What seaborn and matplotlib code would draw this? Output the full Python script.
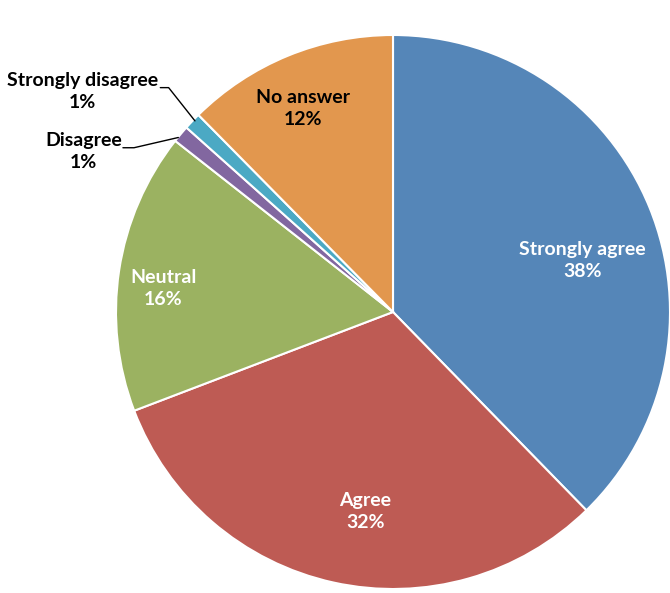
import matplotlib
matplotlib.use("Agg")
import matplotlib.pyplot as plt
import seaborn as sns

# Ответы на вопрос (доли в процентах)
categories = ["Strongly agree", "Agree", "Neutral", "Disagree", "Strongly disagree", "No answer"]
shares = [37.7, 31.5, 16.4, 1.0, 1.0, 12.4]
colors = ["#5586B8", "#BE5B54", "#9BB261", "#8267A0", "#4BA9C4", "#E2974E"]

sns.set_theme(style="white")
plt.rcParams["font.family"] = ["Lato", "DejaVu Sans"]

fig = plt.figure(figsize=(6.7, 5.93), dpi=100)
ax = fig.add_axes([116 / 670, 4 / 593, 554 / 670, 554 / 593])

wedges, _ = ax.pie(shares, colors=colors, startangle=90, counterclock=False,
                   radius=1.0, wedgeprops=dict(edgecolor="white", linewidth=1.5))
ax.set_xlim(-1, 1)
ax.set_ylim(-1, 1)
ax.set_aspect("equal")
ax.axis("off")

fs = 14
ls = 1.35

# Подписи внутри секторов
inside = {
    "Strongly agree": (0.685, 0.185, "white"),
    "Agree": (-0.10, -0.72, "white"),
    "Neutral": (-0.83, 0.085, "white"),
    "No answer": (-0.325, 0.735, "black"),
}
for name, share in zip(categories, shares):
    if name in inside:
        x, y, c = inside[name]
        ax.text(x, y, f"{name}\n{round(share)}%", ha="center", va="center",
                color=c, fontsize=fs, fontweight="bold", linespacing=ls)

# Маленькие сектора — подписи снаружи с выносками
outside = {
    "Disagree": ((-1.118, 0.58), [(-0.975, 0.593), (-0.935, 0.593), (-0.775, 0.63)]),
    "Strongly disagree": ((-1.12, 0.795), [(-0.84, 0.81), (-0.81, 0.81), (-0.715, 0.69)]),
}
for name, share in zip(categories, shares):
    if name in outside:
        (x, y), pts = outside[name]
        ax.text(x, y, f"{name}\n{round(share)}%", ha="center", va="center",
                color="black", fontsize=fs, fontweight="bold", linespacing=ls,
                clip_on=False)
        xs, ys = zip(*pts)
        ax.plot(xs, ys, color="black", linewidth=1, clip_on=False)

fig.savefig("out.png", dpi=100)
